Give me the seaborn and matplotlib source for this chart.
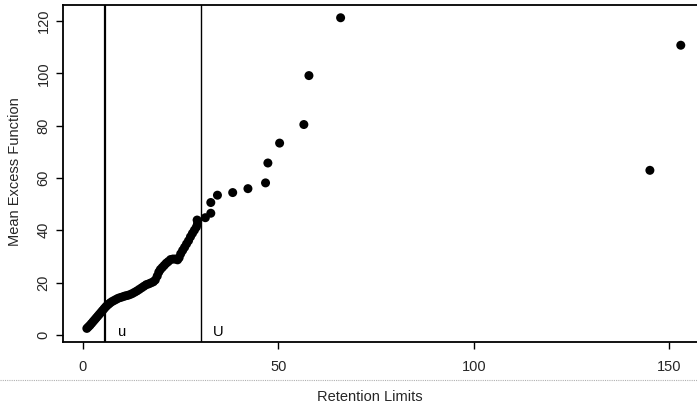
import matplotlib
matplotlib.use("Agg")
import matplotlib.pyplot as plt
from matplotlib.lines import Line2D
import seaborn as sns
import pandas as pd

# Retention limits (x) and mean excess function values (y)
retention = [1.0, 1.4, 1.8, 2.2, 2.6, 3.0, 3.4, 3.8, 4.2, 4.6, 5.0, 5.4, 5.8,
             6.2, 6.6, 7.0, 7.5, 8.0, 8.5, 9.0, 9.6, 10.2, 10.8, 11.4, 12.0,
             12.6, 13.2, 13.8, 14.4, 15.0, 15.6, 16.2, 16.8, 17.4, 18.0, 18.5,
             19.0, 19.4, 19.8, 20.3, 20.8, 21.3, 21.8, 22.4, 23.0, 23.6, 24.2,
             24.6, 25.0, 25.5, 26.0, 26.5, 27.0, 27.5, 28.0, 28.5, 29.0, 29.3,
             29.2, 31.3, 32.7, 32.7, 34.4, 38.3, 42.2, 46.7, 47.3, 50.3, 56.5,
             57.8, 65.9, 145.0, 152.9]
mean_excess = [2.5, 3.1, 3.7, 4.4, 5.1, 5.8, 6.5, 7.2, 7.9, 8.6, 9.3, 10.0, 10.7,
               11.3, 11.8, 12.3, 12.8, 13.2, 13.6, 14.0, 14.3, 14.6, 14.9, 15.1, 15.4,
               15.8, 16.3, 16.8, 17.4, 18.0, 18.6, 19.2, 19.5, 19.9, 20.3, 21.0,
               22.5, 24.0, 25.0, 25.8, 26.6, 27.4, 28.0, 28.8, 29.0, 29.0, 28.7,
               29.5, 31.0, 32.3, 33.5, 34.8, 36.0, 37.5, 38.8, 40.0, 41.2, 42.5,
               43.9, 44.8, 46.5, 50.6, 53.4, 54.4, 55.9, 58.1, 65.7, 73.3, 80.4,
               99.1, 121.2, 62.9, 110.7]

thresholds = [5.6, 30.2]
threshold_labels = ["u", "U"]
threshold_label_x = [10.0, 34.5]
threshold_widths = [1.6, 1.0]

x_ticks = [0, 50, 100, 150]
y_ticks = [0, 20, 40, 60, 80, 100, 120]

df = pd.DataFrame({"Retention Limits": retention, "Mean Excess Function": mean_excess})

sns.set_style("white")
plt.rcParams["font.family"] = ["Liberation Sans", "DejaVu Sans"]

W, H = 697, 407
fig = plt.figure(figsize=(W / 100, H / 100), dpi=100)
xlim = (-5.1, 159.0)
ylim = (-2.7, 125.9)
left_px, bottom_px = 63, 342
xscale, yscale = 3.91, 2.617
ax_w = (xlim[1] - xlim[0]) * xscale
ax_h = (ylim[1] - ylim[0]) * yscale
ax = fig.add_axes([left_px / W, (H - bottom_px) / H, ax_w / W, ax_h / H])

sns.scatterplot(data=df, x="Retention Limits", y="Mean Excess Function", ax=ax,
                color="black", s=42, edgecolor="none", linewidth=0, legend=False)

for t, lab, lx, lw in zip(thresholds, threshold_labels, threshold_label_x, threshold_widths):
    ax.axvline(t, color="black", linewidth=lw)
    ax.text(lx, 1.2, lab, ha="center", va="center", fontsize=10.5, color="black")

ax.set_xlim(*xlim)
ax.set_ylim(*ylim)
ax.set_xticks(x_ticks)
ax.set_yticks(y_ticks)
ax.set_xticklabels([str(v) for v in x_ticks], fontsize=10.5)
ax.set_yticklabels([str(v) for v in y_ticks], fontsize=10.5, rotation=90, va="center")
ax.tick_params(axis="both", direction="out", length=5, width=1.0, color="black",
               bottom=True, left=True)
ax.tick_params(axis="x", pad=8)
ax.tick_params(axis="y", pad=4)
for sp in ax.spines.values():
    sp.set_visible(True)
    sp.set_color("black")
    sp.set_linewidth(1.3)

ax.set_xlabel("")
ax.set_ylabel("")
fig.text(370 / W, 1 - 397 / H, "Retention Limits", ha="center", va="center", fontsize=10.5)
fig.text(15 / W, 1 - 172 / H, "Mean Excess Function", ha="center", va="center",
         fontsize=10.5, rotation=90)

# faint dotted scan line under the tick labels
fig.add_artist(Line2D([0, 1], [1 - 380 / H, 1 - 380 / H], transform=fig.transFigure,
                      color="#b0b0b0", linestyle=(0, (1, 1)), linewidth=0.8))

fig.savefig("out.png", dpi=100)
